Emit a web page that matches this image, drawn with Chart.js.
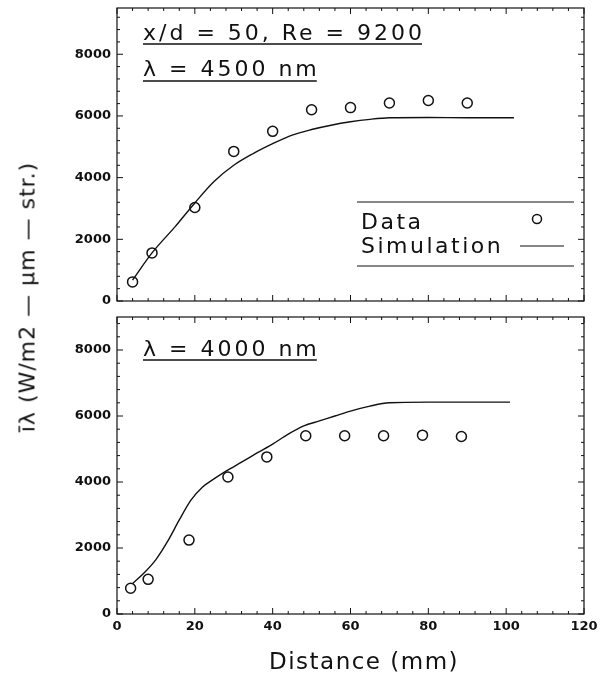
<!DOCTYPE html>
<html>
<head>
<meta charset="utf-8">
<script src="https://cdn.jsdelivr.net/npm/chart.js@4/dist/chart.umd.min.js"></script>
<style>
  html, body { margin: 0; padding: 0; background: #fff; }
  #wrap { position: relative; width: 600px; height: 682px; }
  #topChart { position: absolute; left: 0; top: 0; }
  #botChart { position: absolute; left: 0; top: 310px; }
  #yTitle {
    position: absolute; left: 27px; top: 297px;
    transform: translate(-50%, -50%) rotate(-90deg);
    white-space: nowrap; font: 22px "DejaVu Sans"; letter-spacing: 1px; color: #111;
  }
</style>
</head>
<body>
<div id="wrap">
  <canvas id="topChart" width="600" height="310"></canvas>
  <canvas id="botChart" width="600" height="372"></canvas>
  <div id="yTitle">īλ (W/m2 — μm — str.)</div>
</div>
<script>
// top panel: x/d = 50, Re = 9200, lambda = 4500 nm
const topDist = [4, 9, 20, 30, 40, 50, 60, 70, 80, 90];
const topData = [620, 1560, 3030, 4850, 5500, 6200, 6270, 6420, 6500, 6420];
const topSimDist = [4, 9, 15, 20, 25, 30, 35, 40, 45, 50, 55, 60, 65, 70, 80, 90, 102];
const topSim = [680, 1560, 2420, 3180, 3880, 4400, 4780, 5100, 5380, 5560, 5700, 5810, 5890, 5940, 5950, 5940, 5940];

// bottom panel: lambda = 4000 nm
const botDist = [3.5, 8, 18.5, 28.5, 38.5, 48.5, 58.5, 68.5, 78.5, 88.5];
const botData = [780, 1050, 2240, 4150, 4760, 5400, 5400, 5400, 5420, 5380];
const botSimDist = [4, 7, 10, 13, 16, 19, 22, 25, 28, 32, 36, 40, 44, 48, 52, 56, 60, 65, 70, 80, 90, 101];
const botSim = [920, 1250, 1650, 2200, 2850, 3450, 3850, 4100, 4330, 4600, 4880, 5150, 5450, 5700, 5850, 6000, 6150, 6300, 6400, 6420, 6420, 6420];

const xTicks = [0, 20, 40, 60, 80, 100, 120];
const yTicks = [0, 2000, 4000, 6000, 8000];

const INK = "#111";
const TEXT_FONT = '22px "DejaVu Sans"';
const TICK_FONT = { family: "DejaVu Sans", size: 13, weight: "bold" };

function pts(xs, ys) {
  return xs.map((x, i) => ({ x: x, y: ys[i] }));
}

function seg(ctx, x1, y1, x2, y2) {
  ctx.beginPath();
  ctx.moveTo(x1, y1);
  ctx.lineTo(x2, y2);
  ctx.stroke();
}

// frame with inward ticks on all four sides, underlined notes and the legend box
const framePlugin = {
  id: "frame",
  afterDatasetsDraw(chart, args, opts) {
    const { ctx, chartArea: a, scales: { x, y } } = chart;
    ctx.save();
    ctx.strokeStyle = INK;
    ctx.fillStyle = INK;
    ctx.lineWidth = 1.2;
    ctx.strokeRect(a.left, a.top, a.right - a.left, a.bottom - a.top);

    ctx.lineWidth = 1;
    for (let v = 0; v <= x.max; v += 4) {
      const px = x.getPixelForValue(v);
      const len = v % 20 === 0 ? 6 : 3;
      seg(ctx, px, a.bottom, px, a.bottom - len);
      seg(ctx, px, a.top, px, a.top + len);
    }
    for (let v = 0; v <= y.max; v += 400) {
      const py = y.getPixelForValue(v);
      const len = v % 2000 === 0 ? 6 : 3;
      seg(ctx, a.left, py, a.left + len, py);
      seg(ctx, a.right, py, a.right - len, py);
    }

    ctx.font = TEXT_FONT;
    ctx.textBaseline = "alphabetic";
    ctx.lineWidth = 1.3;
    ctx.letterSpacing = "3px";
    (opts.notes || []).forEach((n) => {
      ctx.fillText(n.text, n.x, n.y);
      const w = ctx.measureText(n.text).width - 3;
      seg(ctx, n.x, n.y + n.gap, n.x + w, n.y + n.gap);
    });

    if (opts.legend) {
      const L = opts.legend;
      ctx.letterSpacing = "2.5px";
      ctx.lineWidth = 1;
      seg(ctx, L.left, L.top, L.right, L.top);
      seg(ctx, L.left, L.bottom, L.right, L.bottom);
      ctx.fillText("Data", L.left + 4, L.top + 27);
      ctx.fillText("Simulation", L.left + 4, L.top + 51);
      ctx.lineWidth = 1.5;
      ctx.beginPath();
      ctx.arc(L.right - 37, L.top + 17, 4.5, 0, Math.PI * 2);
      ctx.stroke();
      ctx.lineWidth = 1.2;
      seg(ctx, L.right - 54, L.top + 44, L.right - 10, L.top + 44);
    }

    if (opts.xTitle) {
      ctx.font = '23px "DejaVu Sans"';
      ctx.letterSpacing = "1.5px";
      ctx.textAlign = "center";
      ctx.textBaseline = "middle";
      ctx.fillText(opts.xTitle, opts.xTitleX, opts.xTitleY);
    }
    ctx.restore();
  },
};

function makeChart(id, opt) {
  return new Chart(document.getElementById(id), {
    type: "scatter",
    data: {
      datasets: [
        {
          data: pts(opt.simDist, opt.sim),
          showLine: true,
          borderColor: INK,
          borderWidth: 1.4,
          pointRadius: 0,
          cubicInterpolationMode: "monotone",
        },
        {
          data: pts(opt.dist, opt.data),
          showLine: false,
          pointRadius: 5,
          pointBorderWidth: 1.5,
          pointBorderColor: INK,
          pointBackgroundColor: "#fff",
        },
      ],
    },
    options: {
      responsive: false,
      animation: false,
      layout: { padding: opt.padding },
      plugins: {
        legend: { display: false },
        tooltip: { enabled: false },
        frame: {
          notes: opt.notes,
          legend: opt.legend,
          xTitle: opt.xTitle,
          xTitleX: 364,
          xTitleY: 353,
        },
      },
      scales: {
        x: {
          type: "linear",
          min: 0,
          max: 120,
          display: opt.showX,
          grid: { display: false, drawTicks: false },
          border: { display: false },
          afterBuildTicks: (s) => { s.ticks = xTicks.map((v) => ({ value: v })); },
          afterFit: (s) => {
            if (opt.showX) s.height = 68;
            s.paddingLeft = 0;
            s.paddingRight = 0;
          },
          ticks: { color: INK, font: TICK_FONT, padding: 5, maxRotation: 0 },
        },
        y: {
          min: 0,
          max: opt.yMax,
          grid: { display: false, drawTicks: false },
          border: { display: false },
          afterBuildTicks: (s) => { s.ticks = yTicks.map((v) => ({ value: v })); },
          afterFit: (s) => {
            s.width = 117;
            s.paddingTop = 0;
            s.paddingBottom = 0;
          },
          ticks: {
            color: INK,
            font: TICK_FONT,
            padding: 6,
            autoSkip: false,
            callback: (v) => String(v),
          },
        },
      },
    },
    plugins: [framePlugin],
  });
}

makeChart("topChart", {
  dist: topDist, data: topData, simDist: topSimDist, sim: topSim,
  yMax: 9500,
  showX: false,
  padding: { top: 8, right: 16, bottom: 9, left: 0 },
  notes: [
    { text: "x/d = 50, Re = 9200", x: 143, y: 40, gap: 4 },
    { text: "λ = 4500 nm", x: 143, y: 76, gap: 5 },
  ],
  legend: { left: 357, right: 574, top: 202, bottom: 266 },
});

makeChart("botChart", {
  dist: botDist, data: botData, simDist: botSimDist, sim: botSim,
  yMax: 9000,
  showX: true,
  padding: { top: 7, right: 16, bottom: 0, left: 0 },
  notes: [
    { text: "λ = 4000 nm", x: 143, y: 46, gap: 4 },
  ],
  legend: null,
  xTitle: "Distance (mm)",
});
</script>
</body>
</html>
